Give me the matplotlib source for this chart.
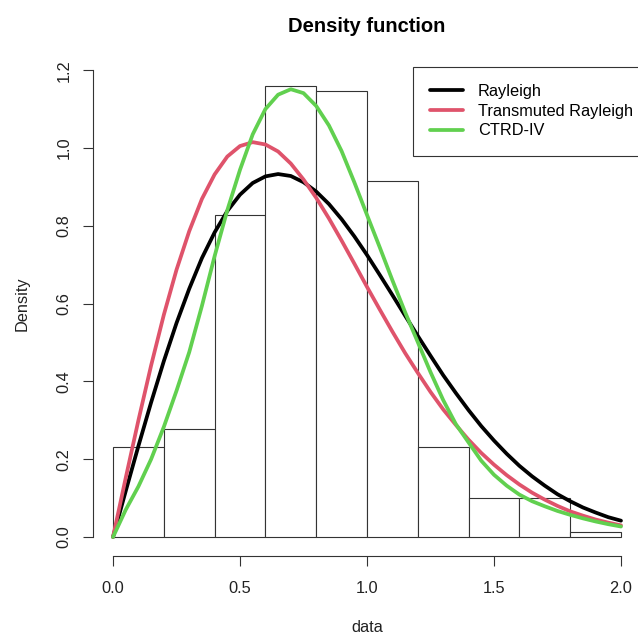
import matplotlib
matplotlib.use("Agg")
import matplotlib.pyplot as plt
import numpy as np

plt.rcParams['font.family'] = ['Liberation Sans', 'DejaVu Sans']

# histogram of the data (density scale)
bin_edges = [0.0, 0.2, 0.4, 0.6, 0.8, 1.0, 1.2, 1.4, 1.6, 1.8, 2.0]
bin_heights = [0.232, 0.277, 0.828, 1.159, 1.146, 0.914, 0.232, 0.101, 0.101, 0.014]

# fitted densities
xgrid = [0.00, 0.05, 0.10, 0.15, 0.20, 0.25, 0.30, 0.35, 0.40, 0.45,
         0.50, 0.55, 0.60, 0.65, 0.70, 0.75, 0.80, 0.85, 0.90, 0.95,
         1.00, 1.05, 1.10, 1.15, 1.20, 1.25, 1.30, 1.35, 1.40, 1.45,
         1.50, 1.55, 1.60, 1.65, 1.70, 1.75, 1.80, 1.85, 1.90, 1.95, 2.00]
rayleigh = [0.000, 0.118, 0.234, 0.346, 0.452, 0.550, 0.638, 0.717, 0.783, 0.838,
            0.880, 0.910, 0.927, 0.933, 0.928, 0.912, 0.888, 0.856, 0.817, 0.773,
            0.725, 0.674, 0.622, 0.569, 0.517, 0.466, 0.416, 0.370, 0.326, 0.285,
            0.248, 0.214, 0.183, 0.156, 0.132, 0.110, 0.092, 0.076, 0.063, 0.051, 0.042]
transmuted = [0.000, 0.152, 0.300, 0.441, 0.571, 0.687, 0.786, 0.869, 0.932, 0.978,
              1.005, 1.015, 1.009, 0.991, 0.960, 0.919, 0.872, 0.819, 0.762, 0.703,
              0.643, 0.585, 0.528, 0.473, 0.422, 0.373, 0.328, 0.288, 0.250, 0.216,
              0.186, 0.159, 0.135, 0.114, 0.096, 0.080, 0.066, 0.055, 0.045, 0.037, 0.030]
ctrd = [0.000, 0.070, 0.130, 0.200, 0.283, 0.376, 0.475, 0.594, 0.722, 0.840,
        0.944, 1.035, 1.100, 1.137, 1.151, 1.141, 1.108, 1.058, 0.992, 0.912,
        0.828, 0.745, 0.660, 0.578, 0.501, 0.424, 0.352, 0.290, 0.243, 0.196,
        0.160, 0.132, 0.109, 0.092, 0.079, 0.067, 0.057, 0.048, 0.040, 0.033, 0.027]
labels = ["Rayleigh", "Transmuted Rayleigh", "CTRD-IV"]
colors = ["black", "#DF536B", "#61D04F"]

W, H = 638, 635
fig = plt.figure(figsize=(W / 100, H / 100), dpi=100)
ax = fig.add_axes([92.7 / W, (H - 555.7) / H, 548.6 / W, (555.7 - 51.5) / H])

widths = np.diff(bin_edges)
ax.bar(bin_edges[:-1], bin_heights, width=widths, align='edge',
       facecolor='white', edgecolor='#333333', linewidth=0.8)

for ys, c, lab in zip([rayleigh, transmuted, ctrd], colors, labels):
    ax.plot(xgrid, ys, color=c, lw=2.7, label=lab, solid_capstyle='round',
            solid_joinstyle='round')

ax.set_xlim(-0.08, 2.08)
ax.set_ylim(-0.048, 1.248)
for s in ['top', 'right']:
    ax.spines[s].set_visible(False)
ax.spines['left'].set_bounds(0, 1.2)
ax.spines['bottom'].set_bounds(0, 2)
ax.spines['left'].set_color('#333333')
ax.spines['bottom'].set_color('#333333')
ax.set_xticks([0, 0.5, 1.0, 1.5, 2.0])
ax.set_xticklabels(["0.0", "0.5", "1.0", "1.5", "2.0"])
ax.set_yticks([0, 0.2, 0.4, 0.6, 0.8, 1.0, 1.2])
ax.set_yticklabels(["0.0", "0.2", "0.4", "0.6", "0.8", "1.0", "1.2"],
                   rotation=90, va='center')
ax.tick_params(length=7.2, width=0.8, color='#333333', labelsize=11.8,
               labelcolor='#222222')
ax.tick_params(axis='x', pad=11)
ax.tick_params(axis='y', pad=8)

fig.text(367 / W, 1 - 27 / H, "Density function", ha='center', va='center',
         fontsize=14.5, fontweight='bold')
fig.text(367 / W, 1 - 628 / H, "data", ha='center', va='center', fontsize=11.8,
         color='#222222')
fig.text(22 / W, 1 - 304 / H, "Density", ha='center', va='center', rotation=90,
         fontsize=11.8, color='#222222')

leg = ax.legend(loc='upper left', bbox_to_anchor=(413 / W, 1 - 67 / H),
                bbox_transform=fig.transFigure, fontsize=11.8, frameon=True,
                fancybox=False, edgecolor='#333333', framealpha=1,
                borderaxespad=0, borderpad=1.05, handlelength=2.0,
                handletextpad=0.9, labelspacing=0.28)
leg.get_frame().set_linewidth(0.8)

fig.savefig("out.png", dpi=100)
